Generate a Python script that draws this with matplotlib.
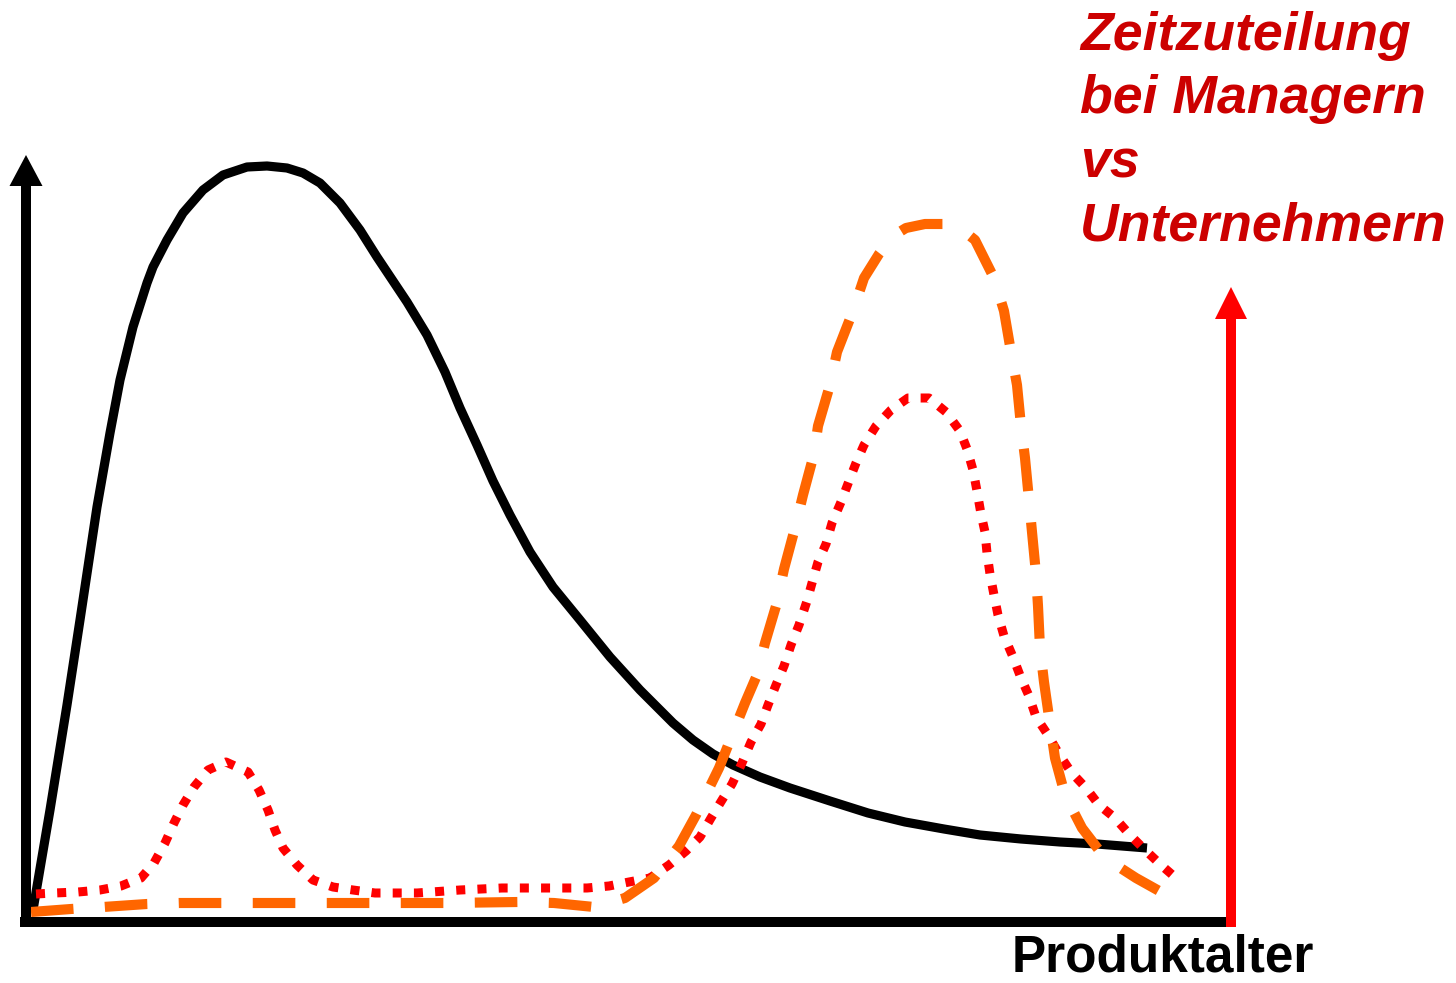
import matplotlib
matplotlib.use("Agg")
import matplotlib.pyplot as plt

# product age (x) and time share (y)
black_x = [8, 25, 42, 55, 72, 85, 95, 108, 122, 128, 142, 158, 178, 198, 222, 242, 262, 278, 295, 315,
           335, 352, 382, 402, 420, 435, 452, 468, 485, 505, 528, 555, 585, 615, 648, 668, 688, 708, 735, 765,
           805, 843, 880, 919, 955, 996, 1035, 1072, 1122]
black_y = [10, 110, 215, 300, 413, 487, 540, 593, 637, 653, 680, 707, 730, 745, 753, 754, 752, 747, 737, 717,
           690, 663, 618, 585, 548, 512, 475, 439, 405, 368, 333, 300, 263, 230, 197, 180, 166, 155, 143, 132,
           119, 107, 98, 91, 85, 81, 78, 76, 72]

red_x = [11, 29, 53, 75, 96, 116, 129, 140, 149, 158, 169, 183, 201, 223, 234, 243, 250, 258, 272, 288,
         308, 328, 350, 392, 435, 477, 520, 562, 584, 604, 625, 644, 661, 675, 686, 697, 707, 717, 726, 736,
         743, 751, 759, 766, 774, 782, 787, 793, 801, 807, 816, 824, 831, 839, 851, 866, 883, 904, 921, 935,
         942, 948, 952, 956, 960, 962, 965, 969, 973, 979, 988, 996, 1004, 1011, 1023, 1034, 1046, 1061, 1074, 1090,
         1105, 1118, 1136, 1151]
red_y = [26, 27, 28, 30, 34, 42, 57, 77, 97, 115, 133, 150, 158, 148, 130, 110, 90, 72, 55, 40,
         33, 30, 27, 27, 30, 32, 32, 32, 34, 38, 42, 55, 69, 83, 102, 120, 136, 157, 178, 196,
         215, 235, 254, 275, 295, 319, 337, 358, 376, 397, 418, 439, 457, 475, 494, 510, 522, 522, 508, 489,
         471, 450, 429, 406, 388, 367, 346, 325, 305, 284, 263, 242, 224, 203, 185, 166, 148, 132, 115, 102,
         85, 72, 55, 42]

orange_x = [6, 46, 78, 122, 154, 198, 270, 346, 421, 493, 529, 569, 600, 629, 654, 671, 694, 720, 732, 740,
            751, 759, 770, 778, 789, 793, 805, 812, 828, 839, 854, 868, 881, 900, 919, 935, 950, 969, 979, 986,
            992, 996, 1000, 1004, 1007, 1011, 1013, 1015, 1019, 1025, 1030, 1040, 1057, 1080, 1111, 1145]
orange_y = [8, 11, 13, 16, 17, 17, 17, 17, 17, 18, 17, 13, 22, 42, 74, 105, 152, 217, 245, 277,
            314, 351, 392, 425, 466, 494, 535, 568, 609, 642, 666, 684, 692, 696, 696, 692, 680, 642, 609, 568,
            535, 494, 462, 420, 388, 346, 314, 272, 238, 196, 162, 125, 92, 62, 42, 23]

x_label = "Produktalter"
title_lines = ["Zeitzuteilung", "bei Managern", "vs", "Unternehmern"]

plt.rcParams['font.family'] = ['Liberation Sans', 'DejaVu Sans']

fig = plt.figure(figsize=(14.56, 9.83), dpi=100)
ax = fig.add_axes([0, 0, 1, 1])
ax.set_xlim(-25, 1431)
ax.set_ylim(-63, 920)
ax.axis("off")

# curves
ax.plot(black_x, black_y, color="black", lw=6.6, solid_joinstyle="round", solid_capstyle="butt", zorder=3)
ax.plot(red_x, red_y, color="#FF0000", lw=6.5, dashes=(1, 1.35), dash_capstyle="butt", zorder=4)
ax.plot(orange_x, orange_y, color="#FF6600", lw=7.3, dashes=(4.2, 3.1), dash_capstyle="butt", zorder=5)

# axes drawn as arrows
ax.arrow(1, -5, 0, 770, width=10, head_width=33, head_length=31,
         length_includes_head=True, color="black", lw=0, zorder=6)
ax.plot([-5, 1203], [-2, -2], color="black", lw=7.2, solid_capstyle="butt", zorder=6)
ax.arrow(1206, -7, 0, 640, width=10, head_width=32, head_length=32,
         length_includes_head=True, color="#FF0000", lw=0, zorder=6)

ax.text(1138, -63, x_label, ha="center", va="bottom", fontsize=37,
        fontweight="bold", color="black")

for i, line in enumerate(title_lines):
    ax.text(1055, 870 - i * 63.5, line, ha="left", va="baseline", fontsize=38.6,
            fontweight="bold", fontstyle="italic", color="#CC0000")

fig.savefig("out.png", dpi=100)
